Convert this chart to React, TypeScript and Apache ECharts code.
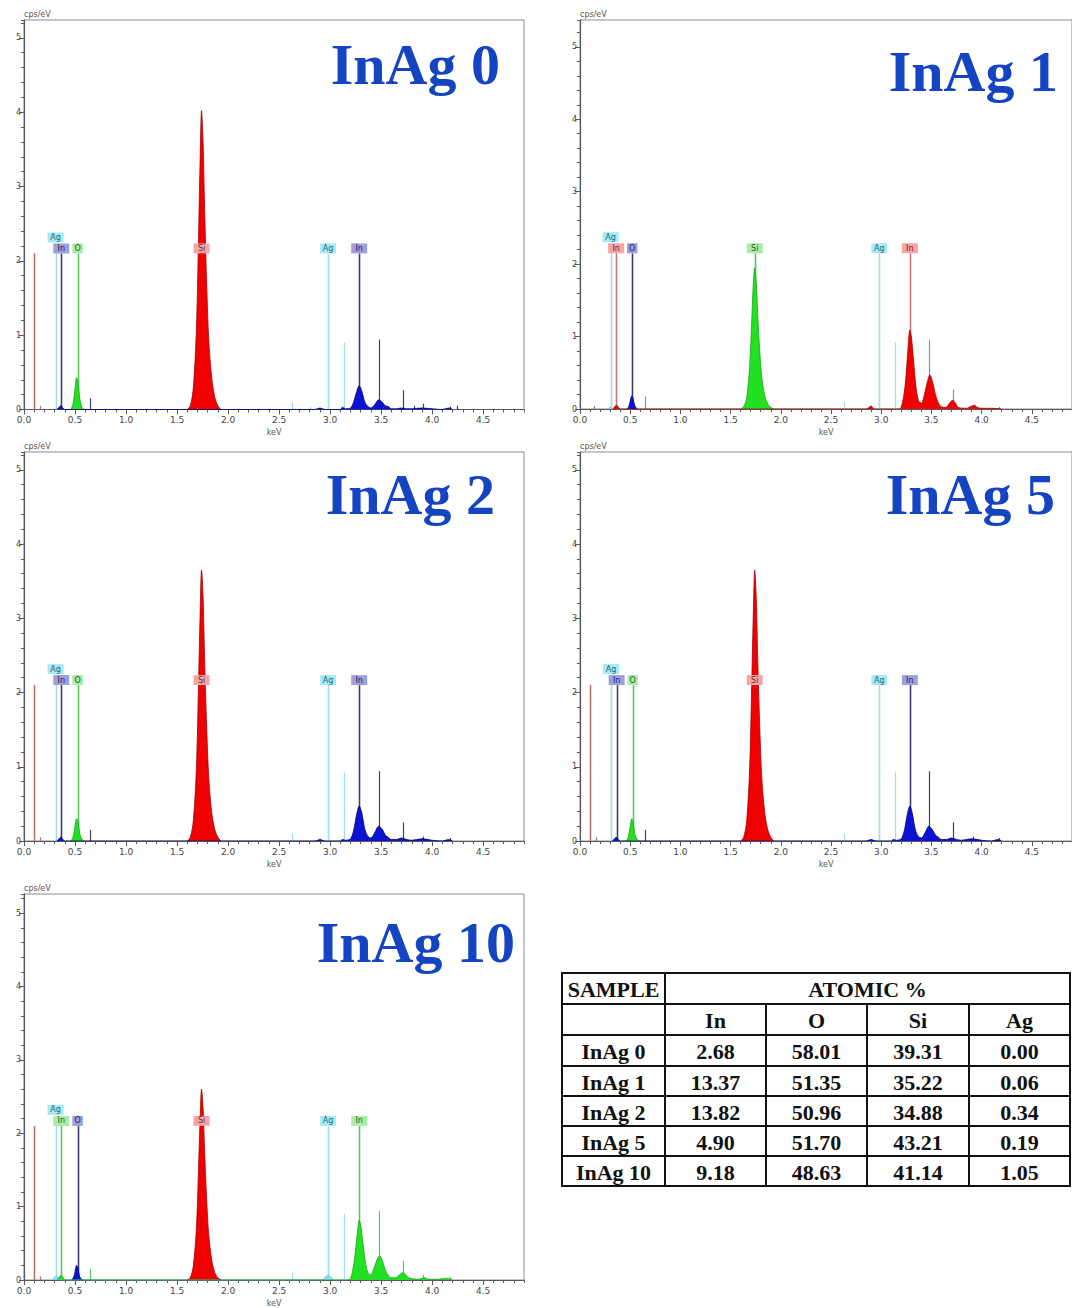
import React, { useEffect, useRef } from "react";
import * as echarts from "echarts";

// ---------------- DATA ----------------
const SAMPLE_NAMES = ["InAg 0", "InAg 1", "InAg 2", "InAg 5", "InAg 10"];
const ENERGY_TICKS = [0, 0.5, 1, 1.5, 2, 2.5, 3, 3.5, 4, 4.5];
const CPS_TICKS = [0, 1, 2, 3, 4, 5];
const ENERGY_MAX = 4.9;
const CPS_MAX = [5.24, 5.37, 5.24, 5.24, 5.26];

// Spectra [keV, cps/eV]
const siInAg0 = [[1.6,0],[1.63,0.05],[1.66,0.3],[1.69,1.1],[1.71,2.3],[1.725,3.3],[1.74,4.02],[1.755,3.6],[1.77,2.7],[1.79,1.7],[1.81,0.95],[1.84,0.42],[1.87,0.16],[1.9,0.05],[1.93,0]];
const oInAg0 = [[0.46,0],[0.48,0.07],[0.5,0.28],[0.515,0.43],[0.53,0.36],[0.545,0.16],[0.565,0.04],[0.59,0]];
const inInAg0 = [[0.32,0],[0.345,0.03],[0.36,0.05],[0.375,0.03],[0.4,0],[2.85,0],[2.9,0.02],[2.95,0],[3.1,0],[3.12,0.03],[3.15,0.01],[3.2,0.02],[3.23,0.1],[3.26,0.24],[3.285,0.32],[3.31,0.25],[3.34,0.1],[3.37,0.04],[3.4,0.02],[3.44,0.07],[3.475,0.13],[3.51,0.1],[3.54,0.05],[3.57,0.04],[3.6,0.01],[3.65,0.01],[3.7,0.02],[3.75,0.01],[3.8,0.01],[3.9,0.02],[4.0,0.01],[4.1,0],[4.16,0.02],[4.2,0]];

const siInAg1 = [[1.6,0],[1.63,0.03],[1.66,0.15],[1.69,0.6],[1.71,1.2],[1.725,1.7],[1.74,1.95],[1.755,1.75],[1.77,1.3],[1.79,0.8],[1.81,0.45],[1.84,0.18],[1.87,0.07],[1.9,0.02],[1.93,0]];
const oInAg1 = [[0.47,0],[0.49,0.05],[0.505,0.14],[0.515,0.18],[0.53,0.14],[0.545,0.05],[0.57,0]];
const inInAg1 = [[0.33,0],[0.35,0.04],[0.365,0.05],[0.38,0.03],[0.4,0],[2.85,0],[2.9,0.04],[2.93,0],[3.18,0],[3.21,0.08],[3.24,0.35],[3.265,0.8],[3.285,1.09],[3.3,1.0],[3.32,0.7],[3.345,0.32],[3.37,0.12],[3.4,0.08],[3.43,0.2],[3.46,0.38],[3.485,0.47],[3.51,0.38],[3.54,0.2],[3.57,0.08],[3.6,0.03],[3.64,0.02],[3.68,0.08],[3.71,0.12],[3.74,0.08],[3.77,0.02],[3.85,0.01],[3.9,0.04],[3.93,0.05],[3.96,0.02],[4.0,0.01],[4.1,0.01],[4.2,0]];
const agInAg1 = [[0.29,0],[0.305,0.03],[0.32,0]];

const siInAg2 = [[1.6,0],[1.63,0.05],[1.66,0.28],[1.69,1.0],[1.71,2.1],[1.725,3.0],[1.74,3.65],[1.755,3.3],[1.77,2.45],[1.79,1.55],[1.81,0.86],[1.84,0.38],[1.87,0.15],[1.9,0.05],[1.93,0]];
const oInAg2 = [[0.46,0],[0.48,0.05],[0.5,0.2],[0.515,0.3],[0.53,0.25],[0.545,0.11],[0.565,0.03],[0.59,0]];
const inInAg2 = [[0.32,0],[0.345,0.03],[0.36,0.05],[0.375,0.03],[0.4,0],[2.85,0],[2.9,0.02],[2.95,0],[3.1,0],[3.12,0.02],[3.15,0.01],[3.2,0.03],[3.23,0.14],[3.26,0.36],[3.285,0.47],[3.31,0.38],[3.34,0.16],[3.37,0.06],[3.4,0.04],[3.44,0.12],[3.475,0.2],[3.51,0.16],[3.54,0.08],[3.57,0.05],[3.6,0.02],[3.65,0.02],[3.7,0.04],[3.75,0.02],[3.8,0.01],[3.9,0.03],[4.0,0.01],[4.1,0],[4.16,0.02],[4.2,0]];

const siInAg5 = [[1.6,0],[1.63,0.05],[1.66,0.27],[1.69,1.0],[1.71,2.1],[1.725,3.0],[1.74,3.65],[1.755,3.3],[1.77,2.45],[1.79,1.55],[1.81,0.86],[1.84,0.38],[1.87,0.15],[1.9,0.05],[1.93,0]];
const oInAg5 = [[0.46,0],[0.48,0.05],[0.5,0.2],[0.515,0.3],[0.53,0.24],[0.545,0.1],[0.565,0.03],[0.59,0]];
const inInAg5 = [[0.32,0],[0.345,0.03],[0.36,0.05],[0.375,0.03],[0.4,0],[2.85,0],[2.9,0.02],[2.95,0],[3.1,0],[3.12,0.02],[3.15,0.01],[3.2,0.03],[3.23,0.14],[3.26,0.36],[3.285,0.47],[3.31,0.37],[3.34,0.15],[3.37,0.06],[3.4,0.04],[3.44,0.12],[3.475,0.2],[3.51,0.15],[3.54,0.08],[3.57,0.05],[3.6,0.02],[3.65,0.02],[3.7,0.04],[3.75,0.02],[3.8,0.01],[3.9,0.03],[4.0,0.01],[4.1,0],[4.16,0.02],[4.2,0]];

const siInAg10 = [[1.6,0],[1.63,0.03],[1.66,0.2],[1.69,0.72],[1.71,1.5],[1.725,2.15],[1.74,2.6],[1.755,2.35],[1.77,1.75],[1.79,1.1],[1.81,0.62],[1.84,0.27],[1.87,0.1],[1.9,0.03],[1.93,0]];
const oInAg10 = [[0.47,0],[0.49,0.05],[0.505,0.15],[0.515,0.2],[0.53,0.15],[0.545,0.05],[0.57,0]];
const inInAg10 = [[0.33,0],[0.35,0.05],[0.365,0.06],[0.38,0.04],[0.4,0],[3.18,0],[3.21,0.06],[3.24,0.3],[3.265,0.62],[3.285,0.81],[3.3,0.75],[3.32,0.52],[3.345,0.25],[3.37,0.1],[3.4,0.07],[3.43,0.16],[3.46,0.28],[3.485,0.33],[3.51,0.27],[3.54,0.14],[3.57,0.06],[3.6,0.03],[3.64,0.03],[3.68,0.07],[3.71,0.1],[3.74,0.07],[3.77,0.03],[3.85,0.01],[3.9,0.02],[3.93,0.03],[3.96,0.01],[4.05,0.01],[4.15,0.02],[4.2,0]];
const agInAg10 = [[0.28,0],[0.3,0.04],[0.315,0.05],[0.33,0.03],[0.345,0],[2.93,0],[2.96,0.05],[2.98,0.06],[3.0,0.05],[3.03,0]];

// Element marker lines [element, keV, height]
const markersInAg0 = [["zero",0.1,2.1],["zero",0.155,0.05],["In",0.645,0.15],["Ag",2.63,0.1],["Ag",2.8,0.04],["Ag",3.14,0.9],["In",3.48,0.94],["In",3.71,0.26],["In",3.82,0.05],["In",3.91,0.08],["In",4.17,0.04],["In",4.24,0.05]];
const markersInAg1 = [["zero",0.14,0.04],["In",0.645,0.17],["Ag",2.63,0.1],["Ag",3.14,0.92],["In",3.48,0.95],["In",3.71,0.27],["In",3.92,0.06],["In",4.17,0.03]];
const markersInAg2 = [["zero",0.1,2.1],["zero",0.155,0.05],["In",0.645,0.15],["Ag",2.63,0.1],["Ag",3.14,0.92],["In",3.48,0.94],["In",3.71,0.25],["In",3.91,0.06],["In",4.17,0.04]];
const markersInAg5 = [["zero",0.1,2.1],["zero",0.155,0.05],["In",0.645,0.15],["Ag",2.63,0.1],["Ag",3.14,0.92],["In",3.48,0.94],["In",3.71,0.25],["In",3.91,0.06],["In",4.17,0.04]];
const markersInAg10 = [["zero",0.1,2.1],["zero",0.155,0.05],["In",0.645,0.15],["Ag",2.63,0.1],["Ag",3.14,0.9],["In",3.48,0.94],["In",3.71,0.26],["In",3.91,0.07],["In",4.17,0.04]];

// Labelled element lines [element, keV, height]
const labelsInAg0 = [["Ag",0.31,2.1],["In",0.365,2.1],["O",0.525,2.1],["Si",1.74,2.1],["Ag",2.98,2.1],["In",3.285,2.1]];
const labelsInAg1 = [["Ag",0.305,2.15],["In",0.36,2.15],["O",0.52,2.15],["Si",1.74,2.15],["Ag",2.98,2.15],["In",3.285,2.15]];
const labelsInAg2 = [["Ag",0.31,2.1],["In",0.365,2.1],["O",0.525,2.1],["Si",1.74,2.1],["Ag",2.98,2.1],["In",3.285,2.1]];
const labelsInAg5 = [["Ag",0.31,2.1],["In",0.365,2.1],["O",0.525,2.1],["Si",1.74,2.1],["Ag",2.98,2.1],["In",3.285,2.1]];
const labelsInAg10 = [["Ag",0.31,2.1],["In",0.365,2.1],["O",0.525,2.1],["Si",1.74,2.1],["Ag",2.98,2.1],["In",3.285,2.1]];

// Table
const TABLE_HEADERS = ["SAMPLE", "ATOMIC %"];
const TABLE_ELEMENTS = ["In", "O", "Si", "Ag"];
const atomicIn = [2.68, 13.37, 13.82, 4.9, 9.18];
const atomicO = [58.01, 51.35, 50.96, 51.7, 48.63];
const atomicSi = [39.31, 35.22, 34.88, 43.21, 41.14];
const atomicAg = [0.0, 0.06, 0.34, 0.19, 1.05];

// ---------------- STYLE / LAYOUT ----------------
const PALETTE: any = {
  red: { fill: "#f00000", edge: "#a80000", line: "#c07878", box: "#f2a6a6", ink: "#802020" },
  green: { fill: "#22e022", edge: "#12a812", line: "#5cc85c", box: "#a8eca8", ink: "#1e601e" },
  blue: { fill: "#0a12d6", edge: "#000070", line: "#3e3e6e", box: "#9ea0dc", ink: "#20205a" },
  cyan: { fill: "#80e0f0", edge: "#5cc0d8", line: "#a2dcec", box: "#a6eaf6", ink: "#206878" },
  zero: { line: "#b07868" },
};
const SCHEMES: any[] = [
  { Si: "red", O: "green", In: "blue", Ag: "cyan", zero: "zero" },
  { Si: "green", O: "blue", In: "red", Ag: "cyan", zero: "zero" },
  { Si: "red", O: "green", In: "blue", Ag: "cyan", zero: "zero" },
  { Si: "red", O: "green", In: "blue", Ag: "cyan", zero: "zero" },
  { Si: "red", O: "blue", In: "green", Ag: "cyan", zero: "zero" },
];
const PANELS = [
  { left: 24, top: 20, width: 500, height: 389.5, tx: 500, ty: 84 },
  { left: 580, top: 20, width: 498, height: 389, tx: 1058, ty: 91 },
  { left: 24, top: 452, width: 500, height: 389, tx: 495, ty: 514 },
  { left: 580, top: 452, width: 498, height: 389, tx: 1055, ty: 514 },
  { left: 24, top: 894, width: 500, height: 390, tx: 515, ty: 962 },
];
const SPECTRA: any[] = [
  { Si: siInAg0, O: oInAg0, In: inInAg0 },
  { Si: siInAg1, O: oInAg1, In: inInAg1, Ag: agInAg1 },
  { Si: siInAg2, O: oInAg2, In: inInAg2 },
  { Si: siInAg5, O: oInAg5, In: inInAg5 },
  { Si: siInAg10, O: oInAg10, In: inInAg10, Ag: agInAg10 },
];
const MARKERS: any[] = [markersInAg0, markersInAg1, markersInAg2, markersInAg5, markersInAg10];
const LABELS: any[] = [labelsInAg0, labelsInAg1, labelsInAg2, labelsInAg5, labelsInAg10];

const AXIS_GREY = "#5a5a5a";
const TITLE_BLUE = "#1444c2";
const SERIF = '"Liberation Serif", "Times New Roman", serif';
const SANS = '"DejaVu Sans", Verdana, sans-serif';

function buildOption() {
  const grid: any[] = [];
  const xAxis: any[] = [];
  const yAxis: any[] = [];
  const series: any[] = [];
  const graphic: any[] = [];

  PANELS.forEach((p, i) => {
    grid.push({ left: p.left, top: p.top, width: p.width, height: p.height, show: true, borderColor: "#8c8c8c", borderWidth: 1, backgroundColor: "#ffffff" });
    const scheme = SCHEMES[i];
    xAxis.push({
      gridIndex: i, type: "value", min: 0, max: ENERGY_MAX, position: "bottom",
      name: "keV", nameLocation: "middle", nameGap: 19,
      nameTextStyle: { fontSize: 8, color: "#555", fontFamily: SANS },
      axisLine: { show: true, onZero: false, lineStyle: { color: AXIS_GREY, width: 1.2 } },
      axisTick: { show: true, customValues: ENERGY_TICKS, length: 5, lineStyle: { color: AXIS_GREY } },
      axisLabel: { customValues: ENERGY_TICKS, formatter: (v: number) => v.toFixed(1), fontSize: 9, color: "#444", fontFamily: SANS, margin: 6 },
      splitLine: { show: false },
    });
    xAxis.push({
      gridIndex: i, type: "value", min: 0, max: ENERGY_MAX, interval: 0.1, position: "bottom",
      axisLine: { show: false, onZero: false },
      axisTick: { show: true, length: 3, lineStyle: { color: AXIS_GREY } },
      axisLabel: { show: false }, splitLine: { show: false },
    });
    yAxis.push({
      gridIndex: i, type: "value", min: 0, max: CPS_MAX[i], position: "left",
      name: "cps/eV", nameLocation: "end", nameGap: 2,
      nameTextStyle: { fontSize: 8, color: "#555", fontFamily: SANS, align: "left", verticalAlign: "bottom" },
      axisLine: { show: true, onZero: false, lineStyle: { color: AXIS_GREY, width: 1.2 } },
      axisTick: { show: true, customValues: CPS_TICKS, length: 5, lineStyle: { color: AXIS_GREY } },
      axisLabel: { customValues: CPS_TICKS, fontSize: 8, color: "#444", fontFamily: SANS, margin: 3 },
      splitLine: { show: false },
    });
    yAxis.push({
      gridIndex: i, type: "value", min: 0, max: CPS_MAX[i], interval: 0.2, position: "left",
      axisLine: { show: false, onZero: false },
      axisTick: { show: true, length: 3, lineStyle: { color: AXIS_GREY } },
      axisLabel: { show: false }, splitLine: { show: false },
    });

    const xi = 2 * i;
    const yi = 2 * i;
    const lines = [...MARKERS[i], ...LABELS[i]];
    series.push({
      type: "custom", xAxisIndex: xi, yAxisIndex: yi, z: 1, silent: true, clip: false,
      data: lines.map((l: any) => [l[1], l[2]]),
      renderItem: (params: any, api: any) => {
        const l = lines[params.dataIndex];
        const a = api.coord([api.value(0), 0]);
        const b = api.coord([api.value(0), api.value(1)]);
        const x = Math.round(a[0]) + 0.5;
        return {
          type: "line",
          shape: { x1: x, y1: a[1], x2: x, y2: b[1] },
          style: { stroke: PALETTE[scheme[l[0]]].line, lineWidth: l[2] > 1.5 ? 1.6 : 1.2 },
        };
      },
    });
    ["Ag", "O", "In", "Si"].forEach((el) => {
      const d = SPECTRA[i][el];
      if (!d) return;
      const c = PALETTE[scheme[el]];
      series.push({
        type: "line", name: SAMPLE_NAMES[i] + " " + el, xAxisIndex: xi, yAxisIndex: yi, z: 2, silent: true,
        data: d, symbol: "none", smooth: 0.3,
        lineStyle: { color: c.edge, width: 0.8 },
        areaStyle: { color: c.fill, opacity: 1 },
      });
    });
    const labs = LABELS[i];
    series.push({
      type: "custom", xAxisIndex: xi, yAxisIndex: yi, z: 5, silent: true, clip: false,
      data: labs.map((l: any) => [l[1], l[2]]),
      renderItem: (params: any, api: any) => {
        const k = params.dataIndex;
        const l = labs[k];
        const next = labs[k + 1];
        const tier = next && next[1] - l[1] < 0.08 ? 1 : 0;
        const top = api.coord([api.value(0), api.value(1)]);
        const c = PALETTE[scheme[l[0]]];
        const w = l[0].length * 5.5 + 5;
        const h = 10;
        const yb = top[1] - tier * 11;
        return {
          type: "group",
          children: [
            { type: "rect", shape: { x: top[0] - w / 2, y: yb - h, width: w, height: h }, style: { fill: c.box } },
            { type: "text", style: { text: l[0], x: top[0], y: yb - h / 2, align: "center", verticalAlign: "middle", fill: c.ink, font: "8px " + SANS } },
          ],
        };
      },
    });

    graphic.push({
      type: "text", z: 10,
      style: { text: SAMPLE_NAMES[i], x: p.tx, y: p.ty - 20, align: "right", textAlign: "right", verticalAlign: "middle", textVerticalAlign: "middle", fill: TITLE_BLUE, font: "bold 58px " + SERIF },
    });
  });

  // ---- table ----
  const colX = [562, 665, 766, 867, 969, 1070];
  const rowY = [973, 1004, 1035, 1066, 1096, 1126, 1156, 1186];
  const lw = 2;
  const stroke = "#111";
  graphic.push({ type: "rect", shape: { x: colX[0], y: rowY[0], width: colX[5] - colX[0], height: rowY[7] - rowY[0] }, style: { fill: "#fff", stroke, lineWidth: lw }, z: 10 });
  for (let r = 1; r < rowY.length - 1; r++) {
    graphic.push({ type: "line", shape: { x1: colX[0], y1: rowY[r], x2: colX[5], y2: rowY[r] }, style: { stroke, lineWidth: lw }, z: 11 });
  }
  graphic.push({ type: "line", shape: { x1: colX[1], y1: rowY[0], x2: colX[1], y2: rowY[7] }, style: { stroke, lineWidth: lw }, z: 11 });
  for (let c = 2; c < 5; c++) {
    graphic.push({ type: "line", shape: { x1: colX[c], y1: rowY[1], x2: colX[c], y2: rowY[7] }, style: { stroke, lineWidth: lw }, z: 11 });
  }
  const tfont = "bold 22px " + SERIF;
  const cell = (text: string, x: number, y: number) =>
    graphic.push({ type: "text", z: 12, style: { text, x, y, align: "center", textAlign: "center", verticalAlign: "middle", textVerticalAlign: "middle", fill: "#111", font: tfont } });
  cell(TABLE_HEADERS[0], (colX[0] + colX[1]) / 2, (rowY[0] + rowY[1]) / 2 + 1);
  cell(TABLE_HEADERS[1], (colX[1] + colX[5]) / 2, (rowY[0] + rowY[1]) / 2 + 1);
  TABLE_ELEMENTS.forEach((el, c) => cell(el, (colX[c + 1] + colX[c + 2]) / 2, (rowY[1] + rowY[2]) / 2 + 1));
  const cols = [atomicIn, atomicO, atomicSi, atomicAg];
  SAMPLE_NAMES.forEach((s, r) => {
    const y = (rowY[r + 2] + rowY[r + 3]) / 2 + 1;
    cell(s, (colX[0] + colX[1]) / 2, y);
    cols.forEach((arr, c) => cell(arr[r].toFixed(2), (colX[c + 1] + colX[c + 2]) / 2, y));
  });

  return { animation: false, backgroundColor: "#ffffff", grid, xAxis, yAxis, series, graphic };
}

export default function App() {
  const ref = useRef<HTMLDivElement>(null);
  useEffect(() => {
    if (!ref.current) return;
    const chart = echarts.init(ref.current, undefined, { renderer: "svg" });
    chart.setOption(buildOption());
    return () => chart.dispose();
  }, []);
  return <div ref={ref} style={{ position: "absolute", left: 0, top: 0, width: 1072, height: 1308, background: "#fff" }} />;
}
